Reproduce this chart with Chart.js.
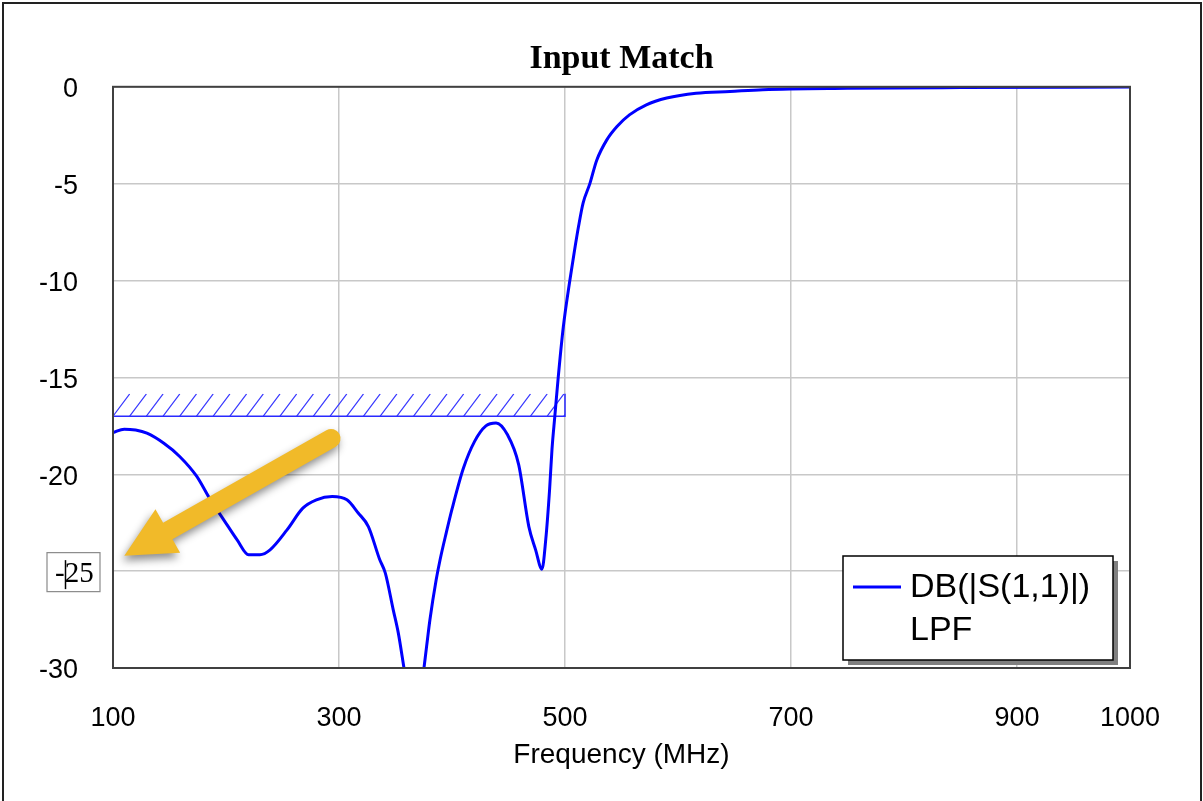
<!DOCTYPE html>
<html>
<head>
<meta charset="utf-8">
<title>Input Match</title>
<script src="https://cdn.jsdelivr.net/npm/chart.js@4.4.1/dist/chart.umd.min.js"></script>
<style>
  html, body { margin: 0; padding: 0; background: #fff; }
  #wrap { width: 1203px; height: 801px; position: relative; }
</style>
</head>
<body>
<div id="wrap"><canvas id="inputMatch"></canvas></div>
<script>
// Swept input match of the LPF
const freqMHz = [100, 110, 120, 130, 145, 159, 174, 186, 198, 210,
                 220, 230, 239, 254, 268, 280, 294, 307, 317, 326,
                 336, 341, 348, 352.5, 357.5, 367.5, 375.2, 377.5, 380.5, 386,
                 389.5, 395, 400, 410, 420, 430, 439, 449, 459, 468,
                 474, 479.6, 483, 486.4, 488.5, 491, 494, 498.5, 504, 508,
                 512, 516, 522, 528, 537, 546, 557, 572, 590, 616,
                 646, 675, 750, 850, 1000];
const s11dB = [-17.85, -17.67, -17.72, -17.88, -18.4, -19.08, -20.1, -21.3, -22.35, -23.4,
               -24.15, -24.15, -23.9, -22.87, -21.75, -21.32, -21.15, -21.32, -22.0, -22.7,
               -24.4, -25.1, -27.0, -28.2, -30.0, -33.6, -30.0, -28.9, -27.5, -25.45,
               -24.4, -23.0, -21.8, -19.7, -18.3, -17.5, -17.35, -17.95, -19.5, -22.7,
               -23.9, -24.9, -23.35, -20.75, -18.7, -17.0, -15.0, -12.4, -10.1, -8.6,
               -7.2, -6.0, -5.0, -3.8, -2.74, -2.05, -1.45, -0.93, -0.58, -0.33,
               -0.24, -0.15, -0.08, -0.04, -0.01];

const xTicks = [100, 300, 500, 700, 900, 1000];
const yTicks = [0, -5, -10, -15, -20, -25, -30];

// Return loss goal: -17 dB from 100 to 500 MHz (hatched on the allowed side)
const goalFreq = [100, 500];
const goalLevel = -17;
const goalHatchTop = -15.85;

// Callout arrow pointing at the -25 label being edited
const arrowTail = [293, -18.15];
const arrowTip = [110, -24.2];
const editedTick = -25;

const seriesName = 'DB(|S(1,1)|)';
const docName = 'LPF';

const sans = 'Liberation Sans';
const serif = 'Liberation Serif';

// Outer border of the graph window
const windowBorder = {
    id: 'windowBorder',
    beforeDraw(chart) {
        const ctx = chart.ctx;
        ctx.save();
        ctx.fillStyle = '#fff';
        ctx.fillRect(0, 0, chart.width, chart.height);
        ctx.strokeStyle = '#222';
        ctx.lineWidth = 2;
        ctx.strokeRect(3, 3, chart.width - 5, chart.height + 20);
        ctx.restore();
    }
};

// Hatching above the goal line
const goalHatch = {
    id: 'goalHatch',
    beforeDatasetsDraw(chart) {
        const { ctx, scales: { x, y } } = chart;
        const x0 = x.getPixelForValue(goalFreq[0]);
        const x1 = x.getPixelForValue(goalFreq[1]);
        const yb = y.getPixelForValue(goalLevel);
        const yt = y.getPixelForValue(goalHatchTop);
        ctx.save();
        ctx.beginPath();
        ctx.rect(x0, yt, x1 - x0, yb - yt);
        ctx.clip();
        ctx.strokeStyle = '#3a3aff';
        ctx.lineWidth = 1.2;
        ctx.beginPath();
        for (let px = x0; px < x1 + 20; px += 16.7) {
            ctx.moveTo(px, yb);
            ctx.lineTo(px + (yb - yt) * 0.75, yt);
        }
        ctx.stroke();
        ctx.restore();
    }
};

// Yellow callout arrow
const arrowNote = {
    id: 'arrowNote',
    afterDatasetsDraw(chart) {
        const { ctx, scales: { x, y } } = chart;
        const tx = x.getPixelForValue(arrowTail[0]), ty = y.getPixelForValue(arrowTail[1]);
        const hx = x.getPixelForValue(arrowTip[0]), hy = y.getPixelForValue(arrowTip[1]);
        const len = Math.hypot(hx - tx, hy - ty);
        const sw = 9.5, hw = 25, hl = 50;
        ctx.save();
        ctx.shadowColor = 'rgba(0,0,0,0.45)';
        ctx.shadowBlur = 8;
        ctx.shadowOffsetX = -2;
        ctx.shadowOffsetY = 5;
        ctx.translate(tx, ty);
        ctx.rotate(Math.atan2(hy - ty, hx - tx));
        ctx.fillStyle = '#f1ba29';
        ctx.beginPath();
        ctx.moveTo(0, -sw);
        ctx.lineTo(len - hl, -sw);
        ctx.lineTo(len - hl, -hw);
        ctx.lineTo(len, 0);
        ctx.lineTo(len - hl, hw);
        ctx.lineTo(len - hl, sw);
        ctx.lineTo(0, sw);
        ctx.arc(0, 0, sw, Math.PI / 2, Math.PI * 1.5);
        ctx.closePath();
        ctx.fill();
        ctx.restore();
    }
};

// Plot frame, legend box and the -25 label in its edit box
const plotDecor = {
    id: 'plotDecor',
    afterDraw(chart) {
        const { ctx, chartArea: a, scales: { y } } = chart;
        ctx.save();
        ctx.strokeStyle = '#404040';
        ctx.lineWidth = 2;
        ctx.strokeRect(a.left, a.top, a.right - a.left, a.bottom - a.top);

        // legend
        const w = 270, h = 104;
        const bx = a.right - 17 - w, by = a.bottom - 8 - h;
        ctx.fillStyle = '#808080';
        ctx.fillRect(bx + 5, by + 5, w, h);
        ctx.fillStyle = '#fff';
        ctx.fillRect(bx, by, w, h);
        ctx.strokeStyle = '#000';
        ctx.lineWidth = 1.5;
        ctx.strokeRect(bx, by, w, h);
        const ds = chart.data.datasets[0];
        ctx.strokeStyle = ds.borderColor;
        ctx.lineWidth = 3;
        ctx.beginPath();
        ctx.moveTo(bx + 10, by + 31);
        ctx.lineTo(bx + 58, by + 31);
        ctx.stroke();
        ctx.fillStyle = '#000';
        ctx.font = `34px "${sans}"`;
        ctx.textBaseline = 'alphabetic';
        ctx.fillText(ds.label, bx + 67, by + 41);
        ctx.fillText(docName, bx + 67, by + 84);

        // edited tick label
        const cy = y.getPixelForValue(editedTick);
        const ex = a.left - 66;
        ctx.fillStyle = '#fff';
        ctx.fillRect(ex, cy - 18.5, 53, 39);
        ctx.strokeStyle = '#8a8a8a';
        ctx.lineWidth = 1.2;
        ctx.strokeRect(ex, cy - 18.5, 53, 39);
        ctx.fillStyle = '#000';
        ctx.font = `29px "${serif}"`;
        ctx.fillText(String(editedTick), ex + 8, cy + 11);
        ctx.strokeStyle = '#000';
        ctx.lineWidth = 1.5;
        ctx.beginPath();
        ctx.moveTo(ex + 18.5, cy - 11);
        ctx.lineTo(ex + 18.5, cy + 18);
        ctx.stroke();
        ctx.restore();
    }
};

const curve = freqMHz.map((f, i) => ({ x: f, y: s11dB[i] }));
const goalLine = [
    { x: goalFreq[0], y: goalLevel },
    { x: goalFreq[1], y: goalLevel },
    { x: goalFreq[1], y: goalHatchTop }
];

const tickFont = { family: sans, size: 27 };
const gridStyle = { color: '#c8c8c8', lineWidth: 1.5, drawTicks: false };

new Chart(document.getElementById('inputMatch'), {
    type: 'line',
    data: {
        datasets: [{
            label: seriesName,
            data: curve,
            borderColor: '#0000ff',
            borderWidth: 3,
            pointRadius: 0,
            cubicInterpolationMode: 'monotone',
            fill: false
        }, {
            label: 'goal',
            data: goalLine,
            borderColor: '#2a2aff',
            borderWidth: 1.5,
            pointRadius: 0,
            tension: 0,
            fill: false
        }]
    },
    options: {
        responsive: true,
        maintainAspectRatio: false,
        animation: false,
        events: [],
        layout: { padding: { left: 33, right: 73, top: 0, bottom: 0 } },
        plugins: {
            legend: { display: false },
            tooltip: { enabled: false },
            title: {
                display: true,
                fullSize: false,
                text: 'Input Match',
                color: '#000',
                font: { family: serif, size: 34, weight: 'bold' },
                padding: { top: 39, bottom: 7 }
            }
        },
        scales: {
            x: {
                type: 'linear',
                min: 100,
                max: 1000,
                afterBuildTicks: s => { s.ticks = xTicks.map(v => ({ value: v })); },
                afterFit: s => { s.height = 133; },
                ticks: {
                    font: tickFont,
                    color: '#000',
                    padding: 34,
                    maxRotation: 0,
                    autoSkip: false,
                    callback: v => String(v)
                },
                grid: gridStyle,
                border: { display: false },
                title: {
                    display: true,
                    text: 'Frequency (MHz)',
                    color: '#000',
                    font: { family: sans, size: 28 },
                    padding: { top: 0, bottom: 29 }
                }
            },
            y: {
                min: -30,
                max: 0,
                afterBuildTicks: s => { s.ticks = yTicks.map(v => ({ value: v })); },
                afterFit: s => { s.width = 80; },
                ticks: {
                    font: tickFont,
                    color: '#000',
                    padding: 35,
                    labelOffset: 3,
                    callback: v => (v === editedTick ? '' : String(v))
                },
                grid: gridStyle,
                border: { display: false }
            }
        }
    },
    plugins: [windowBorder, goalHatch, arrowNote, plotDecor]
});
</script>
</body>
</html>
